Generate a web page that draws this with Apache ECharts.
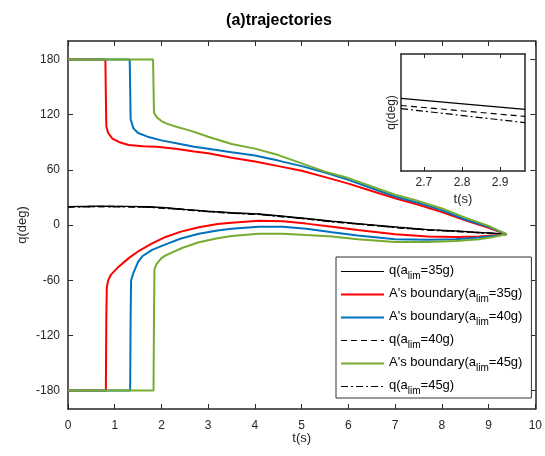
<!DOCTYPE html>
<html>
<head>
<meta charset="utf-8">
<script src="https://cdn.jsdelivr.net/npm/echarts@6/dist/echarts.min.js"></script>
<style>html,body{margin:0;padding:0;background:#fff}#c{width:545px;height:456px}</style>
</head>
<body>
<div id="c"></div>
<script>
// ---- data: [t (s), q (deg)] ----
const qA35 = [[0,20],[0.66,20.4],[1.2,20.2],[1.73,19.8],[2.09,18.7],[2.5,17],[3.0,15],[3.5,13.3],[4.08,12],[4.6,9.5],[5.1,7],[5.65,4],[6.2,1.5],[7.07,-2.5],[7.7,-5],[8.3,-6.5],[8.78,-8],[9.1,-9],[9.38,-10]];
const qA40 = [[0,19.8],[0.66,20.2],[1.2,20],[1.73,19.5],[2.09,18.4],[2.5,16.7],[3.0,14.7],[3.5,13],[4.08,11.7],[4.6,9.2],[5.1,6.7],[5.65,3.7],[6.2,1.2],[7.07,-2.8],[7.7,-5.3],[8.3,-6.8],[8.78,-8.2],[9.1,-9.2],[9.38,-10]];
const qA45 = [[0,19.6],[0.66,20],[1.2,19.8],[1.73,19.3],[2.09,18.2],[2.5,16.5],[3.0,14.5],[3.5,12.8],[4.08,11.5],[4.6,9],[5.1,6.5],[5.65,3.5],[6.2,1],[7.07,-3],[7.7,-5.5],[8.3,-7],[8.78,-8.4],[9.1,-9.3],[9.38,-10]];

const red35Upper = [[0,180],[0.80,180],[0.81,140],[0.82,107],[0.86,100],[0.95,94],[1.1,90],[1.3,87],[1.6,85.5],[1.9,85],[2.3,83],[2.7,80],[3.0,78],[3.5,73],[4.0,69],[4.5,64],[5.0,59],[5.5,52],[6.0,45],[6.5,37],[7.0,29],[7.5,22],[8.0,14],[8.5,5],[9.0,-3],[9.38,-10]];
const red35Lower = [[0,-180],[0.81,-180],[0.82,-100],[0.83,-68],[0.86,-60],[0.92,-54],[1.09,-45],[1.3,-36],[1.52,-28],[1.8,-20],[2.09,-13],[2.4,-7.5],[2.8,-2.4],[3.2,1],[3.5,2.5],[4.08,4.5],[4.6,4],[5.1,1.5],[5.65,-2],[6.2,-5.5],[7.0,-10],[7.7,-12.5],[8.3,-13],[8.8,-12.5],[9.1,-11.5],[9.38,-10]];
const blue40Upper = [[0,180],[1.32,180],[1.33,150],[1.34,115],[1.40,105],[1.5,100],[1.7,96],[2.0,92],[2.4,88],[2.7,85],[3.0,83],[3.5,79],[4.0,75.5],[4.5,70],[5.0,64],[5.5,57],[6.0,49],[6.5,40],[7.0,31],[7.5,24],[8.0,16],[8.5,6],[9.0,-2],[9.38,-10]];
const blue40Lower = [[0,-180],[1.33,-180],[1.34,-100],[1.35,-60],[1.4,-52],[1.5,-40],[1.59,-34],[1.8,-27],[2.09,-21],[2.4,-15],[2.8,-9.6],[3.2,-6],[3.5,-4],[4.08,-2],[4.6,-2],[5.1,-4],[5.65,-8],[6.2,-11.5],[7.0,-15.5],[7.7,-16],[8.3,-15.5],[8.8,-13.5],[9.1,-12],[9.38,-10]];
const green45Upper = [[0,180],[1.82,180],[1.83,150],[1.84,122],[1.9,117],[2.0,113],[2.1,110.5],[2.3,107],[2.65,102],[3.0,96],[3.5,88],[4.0,83],[4.5,76],[5.0,67],[5.5,58],[6.0,51],[6.5,42],[7.0,33],[7.5,26],[8.0,18],[8.5,8],[9.0,-1],[9.38,-10]];
const green45Lower = [[0,-180],[1.83,-180],[1.84,-100],[1.85,-48],[1.9,-42],[2.0,-36],[2.09,-33],[2.44,-25],[2.8,-18.7],[3.2,-14.5],[3.5,-12],[4.08,-9.6],[4.6,-9.5],[5.1,-11],[5.65,-12.5],[6.2,-15.5],[7.0,-18.5],[7.7,-18.5],[8.3,-17.5],[8.8,-15.5],[9.1,-13],[9.38,-10]];

// inset (zoom around t = 2.8 s)
const insetQ35 = [[2.64,16.36],[2.965,16.08]];
const insetQ40 = [[2.64,16.18],[2.965,15.90]];
const insetQ45 = [[2.64,16.10],[2.965,15.74]];

const xTicks = [0,1,2,3,4,5,6,7,8,9,10];
const yTicks = [-180,-120,-60,0,60,120,180];
const insetXTicks = [2.7,2.8,2.9];

const legendNames = ['q35','A35','A40','q40','A45','q45'];
const legendLabels = {
  q35: '{n|q(a}{s|lim}{n|=35g)}',
  A35: "{n|A's boundary(a}{s|lim}{n|=35g)}",
  A40: "{n|A's boundary(a}{s|lim}{n|=40g)}",
  q40: '{n|q(a}{s|lim}{n|=40g)}',
  A45: "{n|A's boundary(a}{s|lim}{n|=45g)}",
  q45: '{n|q(a}{s|lim}{n|=45g)}'
};

const FONT = "'Liberation Sans', Arial, sans-serif";
const AX = '#262626';
const RED = '#FF0000', BLUE = '#0072BD', GREEN = '#77AC30';

const chart = echarts.init(document.getElementById('c'), null, {renderer:'canvas'});

function blackSeries(name, data, type, xi, yi, w){
  return {name:name, type:'line', data:data, xAxisIndex:xi, yAxisIndex:yi, symbol:'none', showSymbol:false,
    lineStyle:{color:'#000', width:w, type:type}, itemStyle:{color:'#000'}, animation:false, z:3};
}
function colorSeries(name, data, color){
  return {name:name, type:'line', data:data, xAxisIndex:0, yAxisIndex:0, symbol:'none', showSymbol:false,
    lineStyle:{color:color, width:2}, itemStyle:{color:color}, animation:false, z:4};
}
function axLine(w){ return {onZero:false, lineStyle:{color:AX, width:w}}; }

const DASH = [6,4];
const DASHDOT = [7,3,2,3];

const legendData = legendNames.map(function(n){
  return n.charAt(0) === 'q' ? {name:n, lineStyle:{width:1}} : {name:n};
});

const option = {
  animation:false,
  textStyle:{fontFamily:FONT},
  title:{text:'(a)trajectories', left:274, top:8, textAlign:'center',
    textStyle:{fontFamily:FONT, fontSize:16, fontWeight:'bold', color:'#000'}},
  grid:[
    {left:68, right:8, top:41, bottom:47, containLabel:false},
    {left:401, top:54, width:124, height:117, show:true, backgroundColor:'#fff', borderWidth:0}
  ],
  legend:{
    data:legendData, orient:'vertical', left:336, top:257, selectedMode:false,
    itemWidth:43, itemHeight:14, itemGap:6,
    padding:[7,9,2,4], borderColor:'#333', borderWidth:1, backgroundColor:'#fff',
    itemStyle:{opacity:0, color:'rgba(0,0,0,0)', borderWidth:0},
    formatter:function(n){ return legendLabels[n]; },
    textStyle:{fontFamily:FONT, color:'#000',
      rich:{
        n:{fontFamily:FONT, fontSize:13, lineHeight:15, verticalAlign:'top', color:'#000'},
        s:{fontFamily:FONT, fontSize:10, lineHeight:11, padding:[7,0,0,0], verticalAlign:'top', color:'#000'}
      }},
    z:10
  },
  xAxis:[
    {type:'value', gridIndex:0, min:0, max:10, interval:1, position:'bottom',
     axisLine:axLine(1.5), axisTick:{inside:true, length:5, lineStyle:{color:AX,width:1}},
     axisLabel:{fontFamily:FONT, fontSize:12, color:AX, margin:11}, splitLine:{show:false},
     name:'t(s)', nameLocation:'middle', nameGap:23, nameMoveOverlap:false,
     nameTextStyle:{fontFamily:FONT, fontSize:13, color:AX}},
    {type:'value', gridIndex:0, min:0, max:10, interval:1, position:'top',
     axisLine:axLine(1.5), axisTick:{inside:true, length:5, lineStyle:{color:AX,width:1}},
     axisLabel:{show:false}, splitLine:{show:false}},
    {type:'value', gridIndex:1, min:2.64, max:2.965, position:'bottom',
     axisLine:axLine(1.5),
     axisTick:{inside:true, length:4, customValues:insetXTicks, lineStyle:{color:AX,width:1}},
     axisLabel:{fontFamily:FONT, fontSize:12, color:AX, margin:6, customValues:insetXTicks}, splitLine:{show:false},
     name:'t(s)', nameLocation:'middle', nameGap:22, nameTextStyle:{fontFamily:FONT, fontSize:13, color:AX}},
    {type:'value', gridIndex:1, min:2.64, max:2.965, position:'top',
     axisLine:axLine(1.5),
     axisTick:{inside:true, length:4, customValues:insetXTicks, lineStyle:{color:AX,width:1}},
     axisLabel:{show:false}, splitLine:{show:false}}
  ],
  yAxis:[
    {type:'value', gridIndex:0, min:-200, max:200, position:'left',
     axisLine:axLine(1.5), axisTick:{inside:true, length:5, customValues:yTicks, lineStyle:{color:AX,width:1}},
     axisLabel:{fontFamily:FONT, fontSize:12, color:AX, margin:8, customValues:yTicks}, splitLine:{show:false},
     name:'q(deg)', nameLocation:'middle', nameGap:39, nameRotate:90, nameMoveOverlap:false,
     nameTextStyle:{fontFamily:FONT, fontSize:13, color:AX}},
    {type:'value', gridIndex:0, min:-200, max:200, position:'right',
     axisLine:axLine(1.5), axisTick:{inside:true, length:5, customValues:yTicks, lineStyle:{color:AX,width:1}},
     axisLabel:{show:false}, splitLine:{show:false}},
    {type:'value', gridIndex:1, min:14.5, max:17.5, position:'left',
     axisLine:axLine(1.5), axisTick:{show:false}, axisLabel:{show:false}, splitLine:{show:false},
     name:'q(deg)', nameLocation:'middle', nameGap:3, nameRotate:90, nameTextStyle:{fontFamily:FONT, fontSize:12, color:AX}},
    {type:'value', gridIndex:1, min:14.5, max:17.5, position:'right',
     axisLine:axLine(1.5), axisTick:{show:false}, axisLabel:{show:false}, splitLine:{show:false}}
  ],
  series:[
    blackSeries('q35', qA35, 'solid', 0, 0, 1.4),
    blackSeries('q40', qA40, DASH, 0, 0, 1.4),
    blackSeries('q45', qA45, DASHDOT, 0, 0, 1.4),
    colorSeries('A35', red35Upper, RED),
    colorSeries('A35', red35Lower, RED),
    colorSeries('A40', blue40Upper, BLUE),
    colorSeries('A40', blue40Lower, BLUE),
    colorSeries('A45', green45Upper, GREEN),
    colorSeries('A45', green45Lower, GREEN),
    blackSeries('inset35', insetQ35, 'solid', 2, 2, 1.2),
    blackSeries('inset40', insetQ40, DASH, 2, 2, 1.2),
    blackSeries('inset45', insetQ45, DASHDOT, 2, 2, 1.2)
  ]
};
chart.setOption(option);
</script>
</body>
</html>
